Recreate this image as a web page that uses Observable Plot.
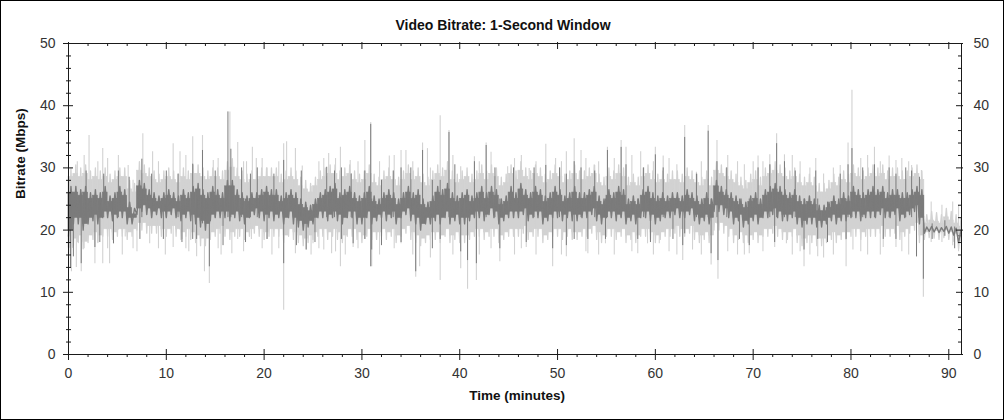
<!DOCTYPE html>
<html>
<head>
<meta charset="utf-8">
<script src="https://cdn.jsdelivr.net/npm/d3@7"></script>
<script src="https://cdn.jsdelivr.net/npm/@observablehq/plot@0.6"></script>
<style>
  body { margin: 0; background: #fff; }
  #chart svg { outline: 1px solid #000; outline-offset: -1px; display: block; }
</style>
</head>
<body>
<div id="chart"></div>
<script>
// ---- DATA ----
const title = "Video Bitrate: 1-Second Window";
const xLabel = "Time (minutes)";
const yLabel = "Bitrate (Mbps)";
const xMax = 91.3;                       // end of the time axis (minutes)
const xMajor = [0, 10, 20, 30, 40, 50, 60, 70, 80, 90];
const xMinor = [2,4,6,8,12,14,16,18,22,24,26,28,32,34,36,38,42,44,46,48,52,54,56,58,62,64,66,68,72,74,76,78,82,84,86,88];
const yMajor = [0, 10, 20, 30, 40, 50];
const yMinor = [2,4,6,8,12,14,16,18,22,24,26,28,32,34,36,38,42,44,46,48];

// half-minute sampling grid: 0, 0.5, ... 91
const bucketStart = d3.range(0, 91.5, 0.5);

// dark series: low / high of each half-minute, Mbps
const darkLo = [
19,21,21,20,21,21.5,21,22,22,21.5,22,22,21,21,22.5,23,22.5,22,22.5,22,
22,22.5,22,21.5,22,21.5,21,20.5,20,21.5,22,22,22,21.5,22,21.5,21,22,22.5,22,
21.5,22,21.5,22,21,22,21,20.5,20,20.5,21,22,22,21.5,22,21.5,21,22,22,21,
21,22,21,21.5,22,21.5,22,21,22,22.5,21.5,21,20,21,21,21.5,21,22,21,21.5,
21,21,21.5,22,22,21.5,22.5,22,21,21.5,22,22,22,22.5,21.5,22,22,21,21.5,22,
22,21.5,22,21.5,21.5,22,22,22.5,21.5,21,22,22,21.5,22,21,21.5,21,22,22,21.5,
21,21.5,22,22,22.5,22,22,22.5,21.5,21,21.5,21,23,23,22.5,22,21,21.5,20.5,21,
21.5,21,22,22,22.5,22,21.5,21.5,22,21,20.5,21,21,20.5,20.5,21,21.5,21,21.5,21.5,
22,22,21.5,22,22,22,22.5,22,22,22.5,21.5,22,22.5,23,21,19.5,19.8,19.7,19.6,19.8,
19.5,19.2,18];
const darkHi = [
27,27,26.5,27,26,26.5,26,27,25.5,26,27,26.5,24.5,23.5,28,27.5,26.5,26,25.5,26,
26.5,26,25.5,26.5,26,27,27.5,26.5,26,27,26.5,26,28,28,26.5,26,25.5,26,26,26.5,
27,26.5,26.5,25.5,26,26.5,26,25,24.5,24,25,26,26.5,27,27.5,26,26.5,27,26,25.5,
26,27,25.5,25,26,26.5,26,25,26,27,26,26.5,25,24.5,25.5,27,26.5,27.5,26,25.5,
26,26.5,25.5,26,27,26,27,26.5,25,25.5,27,26,27.5,26.5,26,27,26.5,25.5,26,27,
26.5,25.5,26,27,26,26,26.5,27,25.5,25,26.5,26,27,26.5,25,25.5,25,26.5,27,26,
25.5,26,25.5,26,26,25.5,26.5,26,25.5,25,26,25,28,27,26.5,26,25.5,25,24.5,25.5,
26,25,26.5,27,27.5,27,26.5,26,26.5,25.5,25,25.5,25,24,24,24.5,25.5,25,26,25.5,
27,26.5,26,26.5,27,26.5,27,26,26.5,26.5,26,26,26.5,27,26.5,20.5,20.6,20.5,20.4,20.6,
20.5,20.3,20];

// light series: low / high of each half-minute, Mbps
const lightLo = [
16,17.5,18,17,18,18.5,18,19,19,18.5,19,19,18.5,19,20,20,19.5,19.5,19.5,19,
19,19.5,19,18.5,19,18.5,18,17.5,17.5,18.5,19,19.5,19,18.5,19,19,18.5,19,19.5,19,
18.5,19,19,19,18,19,18.5,18,17.5,18,18.5,19,19,18.5,19,18.5,18,19,19,18.5,
18,19,18.5,18.5,19,18.5,19,18,19,19.5,18.5,18,17.5,18,18.5,18.5,18,19,18,18.5,
18,18,18.5,19,19,18.5,19,19,18,18.5,19,19,19,19.5,18.5,19,19,18,18.5,19,
19,18.5,19,18.5,18.5,19,19,19.5,18.5,18,19,19,18.5,19,18,18.5,18,19,19,18.5,
18,18.5,19,19,19.5,19,19,19.5,18.5,18,18.5,18,20,20,19.5,19,18,18.5,18,18,
18.5,18,19,19,19.5,19,18.5,18.5,19,18,17.5,18,18,17.5,17.5,18,18.5,18,18.5,18.5,
19,19,18.5,19,19,19,19.5,19,19,19.5,18.5,19,19.5,20,18,18.5,18.8,18.7,18.5,18.8,
18.5,18.2,17];
const lightHi = [
30,30.5,30,30.5,29.5,30,29.5,30,29,29.5,30,30,28,27.5,31,30.5,30,29.5,29,29.5,
30,29.5,29,30,29.5,30.5,30.5,30,29.5,30,30,29.5,31,31.5,30,29.5,29,29.5,29.5,30,
30,30,30,29,29.5,30,29.5,28.5,28,27.5,28.5,29.5,30,30.5,30.5,29.5,30,30.5,29.5,29,
29.5,30.5,29,28.5,29.5,30,29.5,28.5,29.5,30.5,29.5,30,29,28.5,29.5,30.5,30,31,29.5,29,
29.5,30,29,29.5,30.5,29.5,30.5,30,28.5,29,30.5,29.5,31,30,29.5,30.5,30,29,29.5,30.5,
30,29,29.5,30.5,29.5,29.5,30,30.5,29,28.5,30,29.5,30.5,30,28.5,29,28.5,30,30.5,29.5,
29,29.5,29,29.5,29.5,29,30,29.5,29,28.5,29.5,28.5,31,30.5,30,29.5,29,28.5,28,29,
29.5,28.5,30,30.5,31,30.5,30,29.5,30,29,28.5,29,28.5,27.5,27.5,28,29,28.5,29.5,29,
30.5,30,29.5,30,30.5,30,30.5,29.5,30,30,29.5,29.5,30,30.5,29.5,22.5,23,22.8,22.5,23.5,
23,22.5,22];

// light series: isolated one-second peaks / dips (minute, low, high)
const lightSpikeT  = [0.3,0.8,1.3,2.1,2.7,3.5,4.2,4.6,5.1,5.8,6.1,7.6,8.3,8.6,10.7,11.4,11.6,12.7,13.1,13.7,13.9,14.4,14.8,16.5,16.7,17.3,18.2,18.7,18.8,19.2,20.3,22.0,22.3,23.2,23.9,24.3,25.0,26.1,26.6,26.9,27.8,28.8,29.1,30.3,30.9,31.0,32.8,34.0,34.5,35.5,35.9,36.2,36.7,38.0,38.9,40.1,40.8,41.5,41.7,42.7,44.1,44.9,46.8,47.1,48.8,49.5,49.8,50.9,51.7,52.4,53.1,53.8,54.9,55.1,56.5,57.0,58.2,58.5,59.2,60.0,60.4,60.8,62.8,63.0,63.8,64.2,65.4,65.7,66.3,66.4,69.6,70.0,70.5,71.7,72.2,72.4,73.2,73.4,75.2,76.4,76.6,78.9,79.5,79.7,80.1,80.2,82.4,83.3,83.9,84.6,86.2,86.7,87.2,87.4,
  0.9,1.6,3.0,4.0,5.5,6.6,7.0,9.2,9.9,12.0,12.3,15.3,15.6,17.9,19.8,20.8,21.5,24.8,25.6,27.3,28.3,29.6,31.8,33.3,35.2,37.0,39.3,42.0,43.2,45.6,46.3,47.8,50.4,52.9,54.2,55.8,57.6,59.8,61.4,62.2,64.7,67.4,68.4,69.1,71.0,74.0,74.8,75.8,77.2,78.2,81.0,81.7,83.0,85.2,85.9,88.2,89.3,90.4,91.0];
const lightSpikeLo = [13.3,14,13.3,20,14.6,14.6,14.6,17.8,20,18.9,21,22,17.8,22,17.2,20,18.5,20,15.7,20,13.3,11.4,20,20,16.2,18.5,21,18.5,22,21,18.5,7.1,20,16.2,21,16.8,17.8,16.8,21,16.2,14.1,21,17.2,18.5,21,14.1,21,17.8,21,12.4,14.1,21,21,11.9,21,13.8,10.5,20,11.9,21,14.9,21,17.2,21,21,14.1,21,15.7,21,21,16.2,21,17.8,21,21,21,16.2,21,17.8,21,17.8,21,15.1,21,16.8,21,21,14.4,21,12.1,16.2,21,21,21,17.2,21,21,17.8,14.1,21,15.7,21,14.1,21,21,16.8,21,17.2,21,17.2,21,15.7,21,9.2,
  18,17,18,17,16,17,16.5,17,16,17,16.5,17,16,16.5,17,16,17,16,17,16.5,16,17,16,17,16,15.5,16,16,17,16,17,16,16,16.5,16,16,16.5,16,16.5,16,16,16.5,16,16,16.5,16,16.5,16,15.5,16,16.5,16,16,16.5,16,18,18,17.5,16.5];
const lightSpikeHi = [27,28,26,35.2,26,33.1,27,26,32,26,30.4,35.5,27,32.6,33.9,32.6,26,35,26,35.2,26,26,31.2,39,26,34.1,31,26,33.3,31.5,30,33.9,34.2,33.1,30.3,26,26,31.5,32.3,26,33.3,31.2,26,34.4,37.3,26,31.9,32.8,32.8,26,26,34,33.1,38.4,36,30.2,26,31.8,26,34,26,30.2,26,29.9,33.8,26,31.5,32.6,34.7,32.8,26,30.4,26,33.3,34.4,33.3,26,32.6,26,33.3,26,31.9,26,36.8,26,29.3,36.8,26,34.4,26,26,31,31.9,32.1,26,35.5,32.1,26,26,31.5,26,30.4,26,34,42.5,26,33.3,26,31.9,31.2,30.4,26,29.6,26,
  31,32,31,31.5,27,28,26,31,27,32,26,31.5,26,31,31.5,26,31,27,31,31.5,27,31,31,32,31,30,32,31,32.5,31.5,32,31,31,31.5,31,31.5,32,31,31.5,30.5,31,32,31,30.5,31,32,31,30,29,30,31.5,32,31,31.5,31,24.5,24,24.5,24];

// dark series: isolated one-second peaks / dips (minute, low, high)
const darkSpikeT  = [0.2,0.5,1.3,2.7,4.6,7.5,12.7,13.1,13.7,14.4,16.3,16.6,22.0,24.3,26.4,27.9,30.9,31.0,35.5,36.2,38.0,38.9,40.8,41.7,42.7,48.8,51.7,53.1,55.1,56.5,58.2,60.0,63.0,65.4,65.7,66.4,72.4,75.2,76.6,79.5,80.1,83.3,86.7,87.4,
  1.8,3.2,3.6,5.1,6.2,7.3,8.5,9.7,10.0,11.2,11.6,15.0,15.8,17.7,18.1,18.6,19.3,20.3,21.0,23.3,23.8,25.2,27.2,28.9,29.1,30.3,32.0,33.2,34.0,35.0,37.2,39.5,40.1,41.5,43.6,44.1,45.5,46.8,47.6,49.5,50.2,50.9,52.4,53.8,54.9,57.0,58.8,59.5,60.8,61.8,62.8,64.2,66.3,67.3,68.6,69.6,70.5,71.7,72.2,73.2,74.3,76.4,77.6,78.9,79.7,81.2,82.4,83.9,84.6,85.6,86.2,87.0,88.3,89.6,90.6];
const darkSpikeLo = [14,15.7,14.6,17.2,17.8,22,18.5,18.5,21,14.1,22,22,14.6,16.8,22,18.5,14.1,16.8,13.3,22,18.5,22,15.1,14.6,22,22,18.5,18.5,22,22,18.5,22,19.4,22,16.2,15.1,22,16.8,18.5,18.5,22,18.5,15.7,12.1,
  22,18,22,22,22,18.5,22,18.5,22,22,18,22,17.5,22,18,22,22,18.5,22,17.5,22,18,22,22,17.8,18.5,17.5,22,18,22,17,22,16.5,22,22,17,22,18,22,17,22,17.5,22,22,18.5,22,22,18,22,18.5,17.5,22,22,22,18.5,17.5,22,22,18,22,22,22,18,22,22,22,22,22,18.5,22,22,22,18.5,19,17];
const darkSpikeHi = [26,26,26,25,25,31.4,30.6,25,32.8,25,39,33,31.2,24,30.1,30,37,25,25,32.8,28,35.7,25,25,33.6,30.4,31,25,32.8,33.3,25,32.1,34.9,35.9,25,25,33.9,25,25,25,33.1,25,25,25,
  29.5,25,29,29.5,28.5,24,29,25,29.5,29,25,29.5,25,30,25,29,30,25,29,25,29.5,24,29.5,29,25,29.5,28,29.5,30,30,28,30.5,25,31,30,25,30,25,30,25,30,29,30,29.5,25,30.5,30,25,30,25,25,29,31,30,25,25,30,30.5,25,31,29.5,29.5,24.5,29,30.5,30,30.5,30,29,30,29.5,28.5,21,21.5,20.5];

// ---- build tables from the arrays ----
const endOf = t => Math.min(t + 0.5, xMax);
const core = (lo, hi) => bucketStart.map((t, i) => ({t1: t, t2: endOf(t), lo: lo[i], hi: hi[i]}));
// each half-minute also drawn as a swing from its low to its high (ragged fringe)
const trace = (lo, hi) => bucketStart.flatMap((t, i) => [
  {t: t, v: lo[i]},
  {t: Math.min(t + 0.25, xMax), v: hi[i]}
]);
const darkCore = core(darkLo, darkHi), lightCore = core(lightLo, lightHi);
const darkTrace = trace(darkLo, darkHi), lightTrace = trace(lightLo, lightHi);
const lightSpikes = lightSpikeT.map((t, i) => ({t, lo: lightSpikeLo[i], hi: lightSpikeHi[i]}));
const darkSpikes  = darkSpikeT.map((t, i) => ({t, lo: darkSpikeLo[i], hi: darkSpikeHi[i]}));

const DARK = "#7b7b7b", LIGHT = "#d2d2d2", INK = "#1a1a1a";

const chart = Plot.plot({
  width: 1004,
  height: 420,
  marginLeft: 68,
  marginRight: 43,
  marginTop: 43,
  marginBottom: 66,
  style: {fontFamily: "'Liberation Sans', Arial, sans-serif", background: "#fff"},
  x: {domain: [0, xMax], axis: null},
  y: {domain: [0, 50], axis: null},
  marks: [
    // light series: solid middle, ragged fringe, one-second spikes
    Plot.rect(lightCore, {x1: "t1", x2: "t2", y1: "lo", y2: "hi", insetTop: 9, insetBottom: 7, fill: LIGHT, stroke: LIGHT, strokeWidth: 0.6}),
    Plot.line(lightTrace, {x: "t", y: "v", stroke: LIGHT, strokeWidth: 1.3}),
    Plot.ruleX(lightSpikes, {x: "t", y1: "lo", y2: "hi", stroke: LIGHT, strokeWidth: 1.1}),
    // dark series
    Plot.rect(darkCore, {x1: "t1", x2: "t2", y1: "lo", y2: "hi", insetTop: 6, insetBottom: 6, fill: DARK, stroke: DARK, strokeWidth: 0.6}),
    Plot.line(darkTrace, {x: "t", y: "v", stroke: DARK, strokeWidth: 1.4}),
    Plot.ruleX(darkSpikes, {x: "t", y1: "lo", y2: "hi", stroke: DARK, strokeWidth: 1}),

    // axis lines
    Plot.ruleY([0], {stroke: INK, insetLeft: -5}),
    Plot.ruleY([50], {stroke: INK, insetLeft: -5}),
    Plot.ruleX([0], {stroke: INK, insetBottom: -5}),
    Plot.ruleX([xMax], {stroke: INK}),

    // bottom ticks
    Plot.ruleX(xMajor, {x: d => d, y1: 0, y2: 0, insetTop: -5, insetBottom: -6, stroke: INK}),
    Plot.ruleX(xMinor, {x: d => d, y1: 0, y2: 0, insetTop: 0, insetBottom: -3, stroke: INK}),
    // top ticks
    Plot.ruleX(xMajor, {x: d => d, y1: 50, y2: 50, insetTop: -1, insetBottom: -6, stroke: INK}),
    Plot.ruleX(xMinor, {x: d => d, y1: 50, y2: 50, insetTop: 0, insetBottom: -3, stroke: INK}),
    // left ticks
    Plot.ruleY(yMajor, {y: d => d, x1: 0, x2: 0, insetLeft: -5, insetRight: -5, stroke: INK}),
    Plot.ruleY(yMinor, {y: d => d, x1: 0, x2: 0, insetLeft: -2, insetRight: -3, stroke: INK}),
    // right ticks
    Plot.ruleY(yMajor, {y: d => d, x1: xMax, x2: xMax, insetLeft: -5, insetRight: -2, stroke: INK}),
    Plot.ruleY(yMinor, {y: d => d, x1: xMax, x2: xMax, insetLeft: -3, insetRight: -1, stroke: INK}),

    // tick labels
    Plot.axisX({ticks: xMajor, tickSize: 0, tickPadding: 14, label: null, fontSize: 14, fill: "#333"}),
    Plot.axisY({anchor: "left", ticks: yMajor, tickSize: 0, tickPadding: 13, label: null, fontSize: 14, fill: "#333"}),
    Plot.axisY({anchor: "right", ticks: yMajor, tickSize: 0, tickPadding: 12, label: null, fontSize: 14, fill: "#333"}),

    // titles
    Plot.text([title], {frameAnchor: "top", dy: -23, dx: -12, fontSize: 14, fontWeight: "bold", fill: "#111"}),
    Plot.text([xLabel], {frameAnchor: "bottom", dy: 45, dx: 2, fontSize: 13.5, fontWeight: "bold", fill: "#111"}),
    Plot.text([yLabel], {frameAnchor: "left", dx: -48, rotate: -90, fontSize: 13.5, fontWeight: "bold", fill: "#111"})
  ]
});
document.getElementById("chart").append(chart);
</script>
</body>
</html>
